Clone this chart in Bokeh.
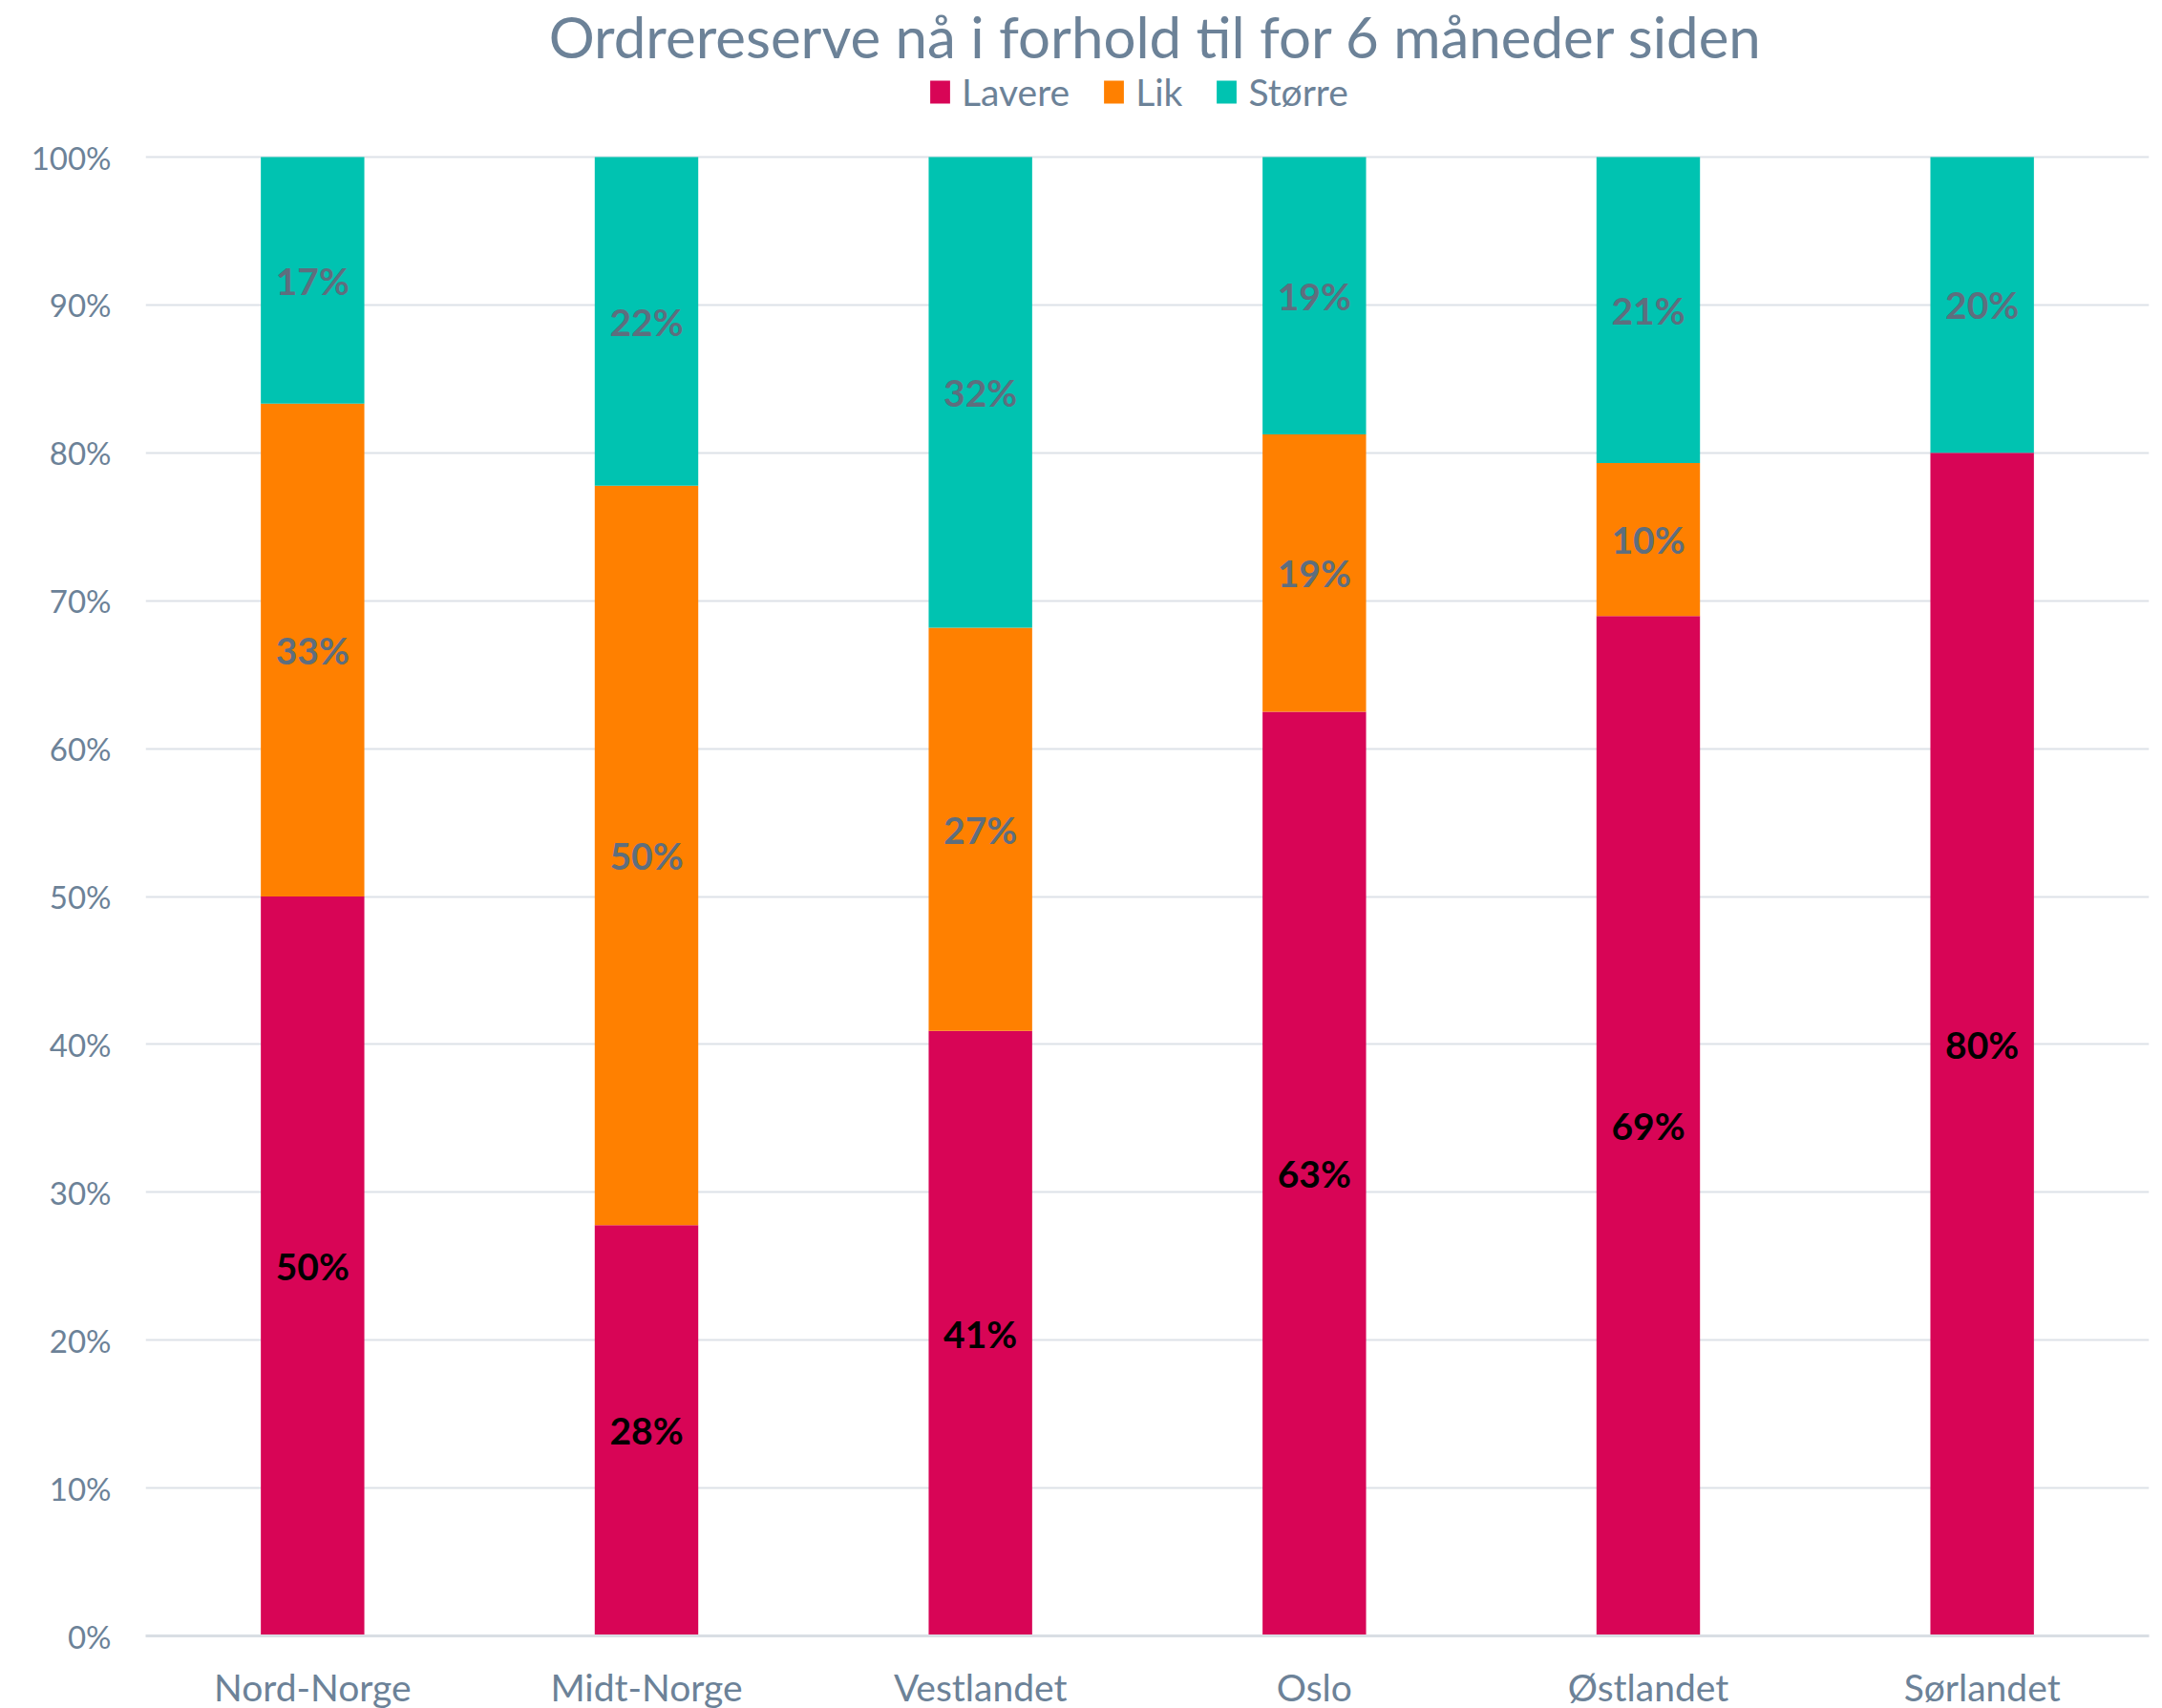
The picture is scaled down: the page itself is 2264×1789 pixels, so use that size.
from bokeh.plotting import figure
from bokeh.models import ColumnDataSource, NumeralTickFormatter, Legend, LegendItem, FixedTicker, Label
from bokeh.core.properties import value
from bokeh.embed import file_html
from bokeh.resources import INLINE

categories = ["Nord-Norge", "Midt-Norge", "Vestlandet", "Oslo", "Østlandet", "Sørlandet"]
series = ["Lavere", "Lik", "Større"]
lavere = [0.5, 0.2778, 0.4091, 0.625, 0.6897, 0.8]
lik = [0.3333, 0.5, 0.2727, 0.1875, 0.1034, 0.0]
storre = [0.1667, 0.2222, 0.3182, 0.1875, 0.2069, 0.2]
y_ticks = [0.0, 0.1, 0.2, 0.3, 0.4, 0.5, 0.6, 0.7, 0.8, 0.9, 1.0]
title_text = "Ordrereserve nå i forhold til for 6 måneder siden"

colors = ["#D80556", "#FF8000", "#00C3B1"]
label_colors = ["#000000", "#5E6E7E", "#5E6E7E"]
FONT = "Lato"
GREY = "#6C8298"

FW = 2098          # frame width (px)
PH = 1549          # height of the 0..100% plotting area (px)
HEAD = 164         # header area (title + legend) above 100%
FH = PH + HEAD

src = ColumnDataSource(dict(cat=categories, Lavere=lavere, Lik=lik, Større=storre))

p = figure(x_range=categories, y_range=(0, 1.0 + HEAD / PH), frame_width=FW, frame_height=FH,
           output_backend="svg", toolbar_location=None, title=None,
           min_border_left=152, min_border_right=14, min_border_top=0, min_border_bottom=0)

renderers = p.vbar_stack(series, x="cat", width=0.31, color=colors, source=src, line_color=None)

# data labels
vals = [lavere, lik, storre]
for si in range(3):
    xs, ys, ts = [], [], []
    for ci, c in enumerate(categories):
        base = sum(vals[k][ci] for k in range(si))
        v = vals[si][ci]
        if v <= 0:
            continue
        xs.append(c)
        ys.append(base + v / 2)
        ts.append(f"{int(v * 100 + 0.5)}%")
    p.text(x=xs, y=ys, text=ts, text_align="center", text_baseline="middle",
           text_font=value(FONT), text_font_size="39px", text_font_style="bold",
           text_color=label_colors[si])

legend = Legend(items=[LegendItem(label=s, renderers=[r]) for s, r in zip(series, renderers)],
                orientation="horizontal", location=(819, FH - 119),
                label_text_font=FONT, label_text_font_size="39px", label_text_color=GREY,
                glyph_width=26, glyph_height=30, label_standoff=10, spacing=33,
                border_line_color=None, background_fill_alpha=0, padding=0, margin=0)
p.add_layout(legend)

title = Label(x=FW / 2 + 9, y=FH - 37, x_units="screen", y_units="screen", text=title_text,
              text_align="center", text_baseline="alphabetic", text_font=FONT,
              text_font_size="60px", text_color=GREY)
p.add_layout(title)

p.yaxis.ticker = FixedTicker(ticks=y_ticks)
p.yaxis.formatter = NumeralTickFormatter(format="0%")
p.yaxis.axis_line_color = None
p.yaxis.major_tick_line_color = None
p.yaxis.minor_tick_line_color = None
p.yaxis.major_label_text_font = FONT
p.yaxis.major_label_text_font_size = "33px"
p.yaxis.major_label_text_color = GREY
p.yaxis.major_label_standoff = 30

p.xaxis.axis_line_color = "#D9DEE4"
p.xaxis.axis_line_width = 3
p.xaxis.major_tick_line_color = None
p.xaxis.minor_tick_line_color = None
p.xaxis.major_label_text_font = FONT
p.xaxis.major_label_text_font_size = "39px"
p.xaxis.major_label_text_color = GREY
p.xaxis.major_label_text_line_height = 0.8
p.xaxis.major_label_standoff = 24

p.xgrid.grid_line_color = None
p.ygrid.grid_line_color = "#DDE2E8"
p.ygrid.grid_line_width = 2
p.outline_line_color = None
p.x_range.range_padding = 0

open("out.html", "w").write(file_html(p, INLINE))
